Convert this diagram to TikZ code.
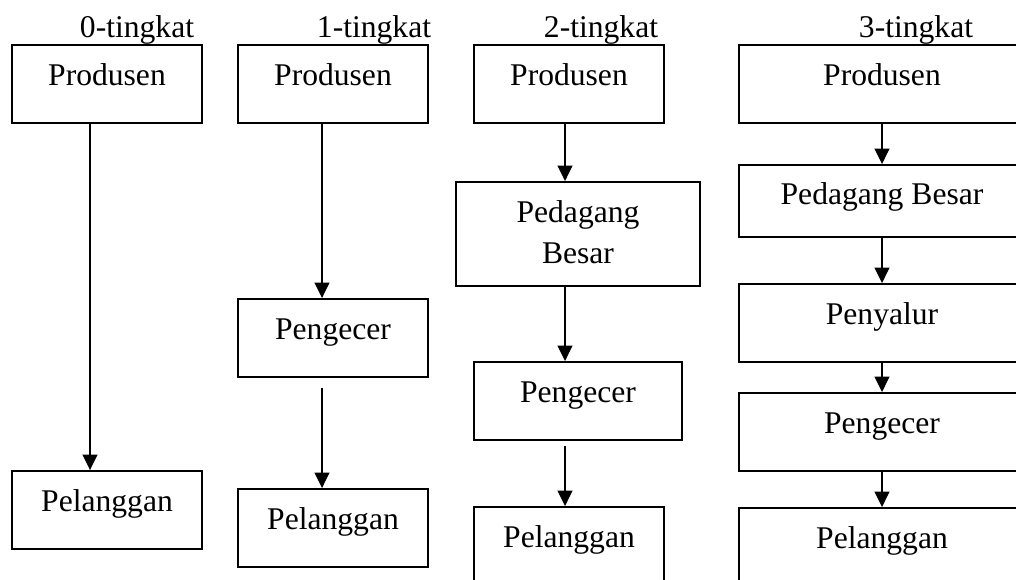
\documentclass[tikz,border=0pt]{standalone}
\usepackage{fontspec}
\setmainfont{Liberation Serif}
\usetikzlibrary{arrows.meta,positioning,calc}

\begin{document}
\begin{tikzpicture}[x=0.75pt, y=-0.75pt,
  every node/.style={font=\fontsize{23.7}{30.75}\selectfont},
  box/.style={draw, line width=1.4pt, inner sep=0pt, minimum width=142.5pt, text height=30pt, text depth=28.5pt},
  arr/.style={-{Triangle[length=11.5pt, width=11pt]}, line width=1.4pt},
  lvl/.style={anchor=base}]
  \clip (0,0) rectangle (1016,579);
  % Level labels
  \node[lvl] (lvl0) at (137,37) {0-tingkat};
  \node[lvl] (lvl1) at (374,37) {1-tingkat};
  \node[lvl] (lvl2) at (601,37) {2-tingkat};
  \node[lvl] (lvl3) at (916,37) {3-tingkat};
  % 0-tingkat
  \node[box] (prod0) at (107,84) {Produsen};
  \node[box] (pel0) at (107,510) {Pelanggan};
  \coordinate (ax0) at (90,0);
  \draw[arr] (prod0.south -| ax0) -- (pel0.north -| ax0);
  % 1-tingkat
  \node[box] (prod1) at (333,84) {Produsen};
  \node[box] (peng1) at (333,338) {Pengecer};
  \node[box] (pel1) at (333,528) {Pelanggan};
  \coordinate (ax1) at (322,0);
  \draw[arr] (prod1.south -| ax1) -- (peng1.north -| ax1);
  \draw[arr] ($(peng1.south -| ax1)+(0,10)$) -- (pel1.north -| ax1);
  % 2-tingkat
  \node[box] (prod2) at (569,84) {Produsen};
  \node[box, minimum width=183pt, text height=60.75pt, text depth=17.25pt, align=center] (ped2) at (578,234) {Pedagang\\Besar};
  \node[box, minimum width=156pt] (peng2) at (578,401) {Pengecer};
  \node[box] (pel2) at (569,546) {Pelanggan};
  \coordinate (ax2) at (565,0);
  \draw[arr] (prod2.south -| ax2) -- (ped2.north -| ax2);
  \draw[arr] (ped2.south -| ax2) -- (peng2.north -| ax2);
  \draw[arr] ($(peng2.south -| ax2)+(0,5)$) -- (pel2.north -| ax2);
  % 3-tingkat
  \node[box, minimum width=214.5pt] (prod3) at (882,84) {Produsen};
  \node[box, minimum width=214.5pt, text height=29.25pt, text depth=24.75pt] (ped3) at (882,201) {Pedagang Besar};
  \node[box, minimum width=214.5pt] (pen3) at (882,323) {Penyalur};
  \node[box, minimum width=214.5pt] (peng3) at (882,432) {Pengecer};
  \node[box, minimum width=214.5pt] (pel3) at (882,547) {Pelanggan};
  \coordinate (ax3) at (882,0);
  \draw[arr] (prod3.south -| ax3) -- (ped3.north -| ax3);
  \draw[arr] (ped3.south -| ax3) -- (pen3.north -| ax3);
  \draw[arr] (pen3.south -| ax3) -- (peng3.north -| ax3);
  \draw[arr] (peng3.south -| ax3) -- (pel3.north -| ax3);
\end{tikzpicture}
\end{document}
